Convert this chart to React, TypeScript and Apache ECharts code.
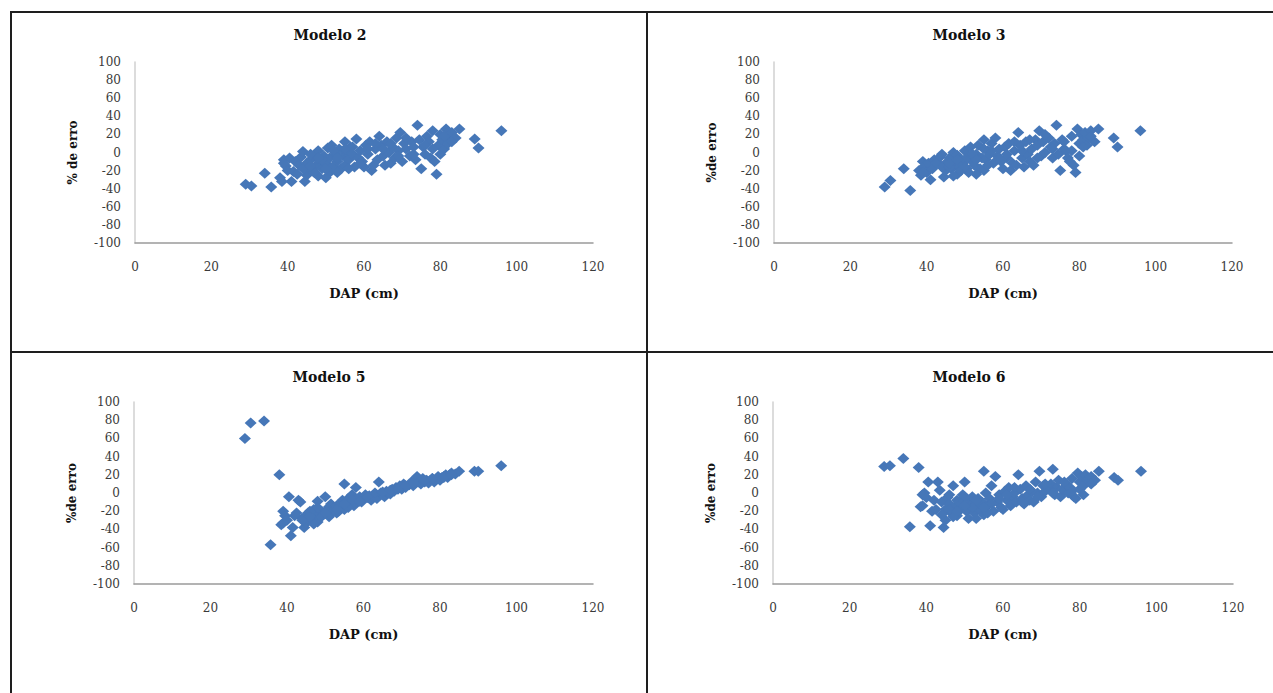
import React, { useEffect, useRef } from "react";
import * as echarts from "echarts";

// DAP (cm) of each tree, shared by all models
const dap = [
  29, 30.5, 34, 35.7, 38, 38.5, 39, 39.5, 40, 40.5,
  41, 41.5, 42, 43, 43.5, 44, 44.5, 45, 45, 45.5,
  46, 46.5, 47, 47.5, 48, 48, 48.5, 49, 49.5, 50,
  50.5, 51, 51, 51.5, 52, 52.5, 53, 53.5, 54, 54.5,
  55, 55, 55.5, 56, 56.5, 57, 57.5, 58, 58.5, 59,
  59.5, 60, 60.5, 61, 61.5, 62, 62.5, 63, 63.5, 64,
  64.5, 65, 65.5, 66, 66.5, 67, 67.5, 68, 68.5, 69,
  69.5, 70, 70.5, 71, 72, 72.5, 73, 73.5, 74, 74.5,
  75, 75.5, 76, 76.5, 77, 77.5, 78, 78.5, 79, 79.5,
  80, 80, 80.5, 81, 81.5, 82, 82.5, 83, 84, 85,
  89, 90, 96,
  39, 42.5, 44, 46, 47, 49, 50, 52, 53, 56,
  46, 50, 53, 57, 59, 61, 63, 65, 67, 69,
  71, 73, 76, 78, 81, 83, 55, 48,
];

const erroModelo2 = [
  -35, -37, -23, -38, -28, -32, -8, -15, -20, -6,
  -32, -21, -10, -14, -5, 1, -32, -25, -12, -18,
  -8, -20, -3, -14, 2, -26, -10, -18, -4, -12,
  5, -22, -6, 8, -15, -2, -10, 4, -18, -4,
  12, -14, 0, -8, 6, -2, -16, 15, -6, 2,
  -10, -16, 8, -2, 12, -20, -14, 4, -8, 18,
  8, -4, -14, 12, 0, -12, 6, -6, 16, 2,
  22, -10, 10, 4, -4, 12, 6, -8, 30, 14,
  -18, 6, -2, 18, 12, -6, 24, -10, -24, 8,
  20, -2, 14, 4, 26, 10, 18, 22, 16, 26,
  15, 5, 24,
  -12, -24, -18, -2, -22, -8, -28, 2, -22, -18,
  -15, -18, -6, 6, -12, 4, 10, 4, 10, -4,
  16, -2, 8, 4, 18, 12, 4, -6,
];

const erroModelo3 = [
  -38, -31, -18, -42, -20, -25, -10, -15, -22, -12,
  -30, -18, -8, -12, -5, -2, -27, -20, -14, -10,
  -6, -18, 0, -12, -3, -24, -16, -8, -12, 2,
  -18, -22, -4, 6, -10, -14, -2, 8, -18, -6,
  14, -20, -8, 2, -2, 10, -12, 16, -4, 4,
  -10, -18, 6, -6, 10, -20, -12, 2, -14, 22,
  8, -6, -16, 12, -2, -10, 4, -14, 14, 8,
  24, -4, 12, 0, 16, 6, -6, 10, 30, -2,
  -20, 14, 4, 2, -6, -10, 18, -14, -22, 26,
  10, -4, 20, 14, 22, 8, 16, 24, 12, 26,
  16, 6, 24,
  -22, -12, -16, -16, -26, -20, -8, -2, -24, -14,
  -12, -16, -8, 2, -6, -2, 12, 2, 14, -6,
  20, 4, 12, 2, 6, 18, 4, -8,
];

const erroModelo5 = [
  60, 77, 79, -57, 20, -35, -20, -25, -30, -4,
  -47, -38, -25, -8, -10, -28, -38, -33, -25, -22,
  -30, -28, -18, -25, -9, -32, -22, -20, -24, -4,
  -18, -26, -15, -12, -18, -16, -14, -20, -12, -8,
  10, -18, -10, -6, -12, -2, -14, 6, -8, -4,
  -10, -6, -2, -5, -3, -8, -4, -2, -6, 12,
  0, -2, -4, 2, 0, -1, 4, 2, 6, 5,
  8, 4, 10, 6, 9, 12, 8, 14, 18, 12,
  10, 16, 12, 14, 11, 14, 16, 12, 15, 18,
  14, 16, 17, 18, 20, 17, 20, 22, 21, 24,
  24, 24, 30,
  -33, -22, -30, -20, -34, -26, -22, -20, -22, -16,
  -26, -22, -18, -8, -9, -4, 0, 1, 3, 4,
  8, 11, 14, 16, 17, 20, -12, -16,
];

const erroModelo6 = [
  29, 30, 38, -37, 28, -15, -2, 0, -5, 12,
  -36, -20, -8, 12, 3, -10, -38, -30, -18, -5,
  -12, -22, 8, -15, -8, -25, -10, -18, -2, 12,
  -20, -28, -8, -14, -4, -22, -12, -6, -18, -10,
  24, -24, 0, -14, -6, 8, -20, 18, -10, -2,
  -16, -18, 2, -8, 6, -14, -4, 0, -10, 20,
  4, -6, -12, 8, -2, -8, 2, -10, 12, 0,
  24, -4, 8, 2, 4, 10, 26, -2, 6, 14,
  -4, 4, 2, 10, 0, 6, 16, -4, -6, 22,
  12, 4, 18, 8, 20, 14, 16, 18, 14, 24,
  17, 14, 24,
  -14, -18, -24, -2, -26, -12, -4, -16, -28, -22,
  -18, -14, -8, -12, -6, -2, 6, -10, 4, -4,
  10, 0, 12, 2, -2, 10, -16, -20,
];

const panelTitles = ["Modelo 2", "Modelo 3", "Modelo 5", "Modelo 6"];
const yAxisNames = ["% de erro", "%de erro", "%de erro", "%de erro"];
const xAxisName = "DAP (cm)";
const xMin = 0, xMax = 120, xStep = 20;
const yMin = -100, yMax = 100, yStep = 20;

const errors = [erroModelo2, erroModelo3, erroModelo5, erroModelo6];

const grids = [
  { left: 135, top: 62, width: 458, height: 181 },
  { left: 774, top: 62, width: 458, height: 181 },
  { left: 134, top: 402, width: 459, height: 182 },
  { left: 773, top: 402, width: 460, height: 182 },
];
const titlePos = [
  [330, 28],
  [969, 28],
  [329, 370],
  [969, 370],
];

const FONT = "'DejaVu Serif', 'Liberation Serif', serif";
const BLUE = "#4677b8";

export default function App() {
  const ref = useRef<HTMLDivElement>(null);

  useEffect(() => {
    if (!ref.current) return;
    const chart = echarts.init(ref.current, undefined, { renderer: "svg" });

    const borderStyle = { stroke: "#1e1e1e", lineWidth: 2 };

    const option: any = {
      animation: false,
      backgroundColor: "#ffffff",
      title: panelTitles.map((t, i) => ({
        text: t,
        left: titlePos[i][0],
        top: titlePos[i][1],
        textAlign: "center",
        padding: 0,
        textStyle: {
          fontFamily: FONT,
          fontWeight: "bold",
          fontSize: 14,
          color: "#111",
        },
      })),
      grid: grids.map((g) => ({ ...g, containLabel: false })),
      xAxis: grids.map((_, i) => ({
        type: "value",
        gridIndex: i,
        min: xMin,
        max: xMax,
        interval: xStep,
        name: xAxisName,
        nameLocation: "middle",
        nameGap: 44,
        nameTextStyle: {
          fontFamily: FONT,
          fontWeight: "bold",
          fontSize: 13,
          color: "#111",
        },
        axisLine: { show: true, onZero: false, lineStyle: { color: "#9a9a9a", width: 1.5 } },
        axisTick: { show: false },
        splitLine: { show: false },
        axisLabel: {
          margin: 18,
          fontFamily: FONT,
          fontSize: 12,
          color: "#3a3a3a",
        },
      })),
      yAxis: grids.map((_, i) => ({
        type: "value",
        gridIndex: i,
        min: yMin,
        max: yMax,
        interval: yStep,
        name: yAxisNames[i],
        nameLocation: "middle",
        nameGap: 56,
        nameTextStyle: {
          fontFamily: FONT,
          fontWeight: "bold",
          fontSize: 12,
          color: "#111",
        },
        axisLine: { show: true, onZero: false, lineStyle: { color: "#d0d0d0", width: 1.5 } },
        axisTick: { show: false },
        splitLine: { show: false },
        axisLabel: {
          margin: 14,
          fontFamily: FONT,
          fontSize: 12,
          color: "#3a3a3a",
        },
      })),
      series: errors.map((errs, i) => ({
        type: "scatter",
        xAxisIndex: i,
        yAxisIndex: i,
        symbol: "diamond",
        symbolSize: [12, 11],
        itemStyle: { color: BLUE, opacity: 1 },
        data: dap.map((d, j) => [d, errs[j]]),
      })),
      graphic: [
        { type: "line", shape: { x1: 10, y1: 12, x2: 1273, y2: 12 }, style: borderStyle },
        { type: "line", shape: { x1: 11, y1: 12, x2: 11, y2: 693 }, style: borderStyle },
        { type: "line", shape: { x1: 647, y1: 12, x2: 647, y2: 693 }, style: borderStyle },
        { type: "line", shape: { x1: 11, y1: 352, x2: 1273, y2: 352 }, style: borderStyle },
      ],
    };

    chart.setOption(option);
    return () => chart.dispose();
  }, []);

  return (
    <div
      ref={ref}
      style={{ position: "absolute", left: 0, top: 0, width: 1273, height: 693, background: "#fff" }}
    />
  );
}
